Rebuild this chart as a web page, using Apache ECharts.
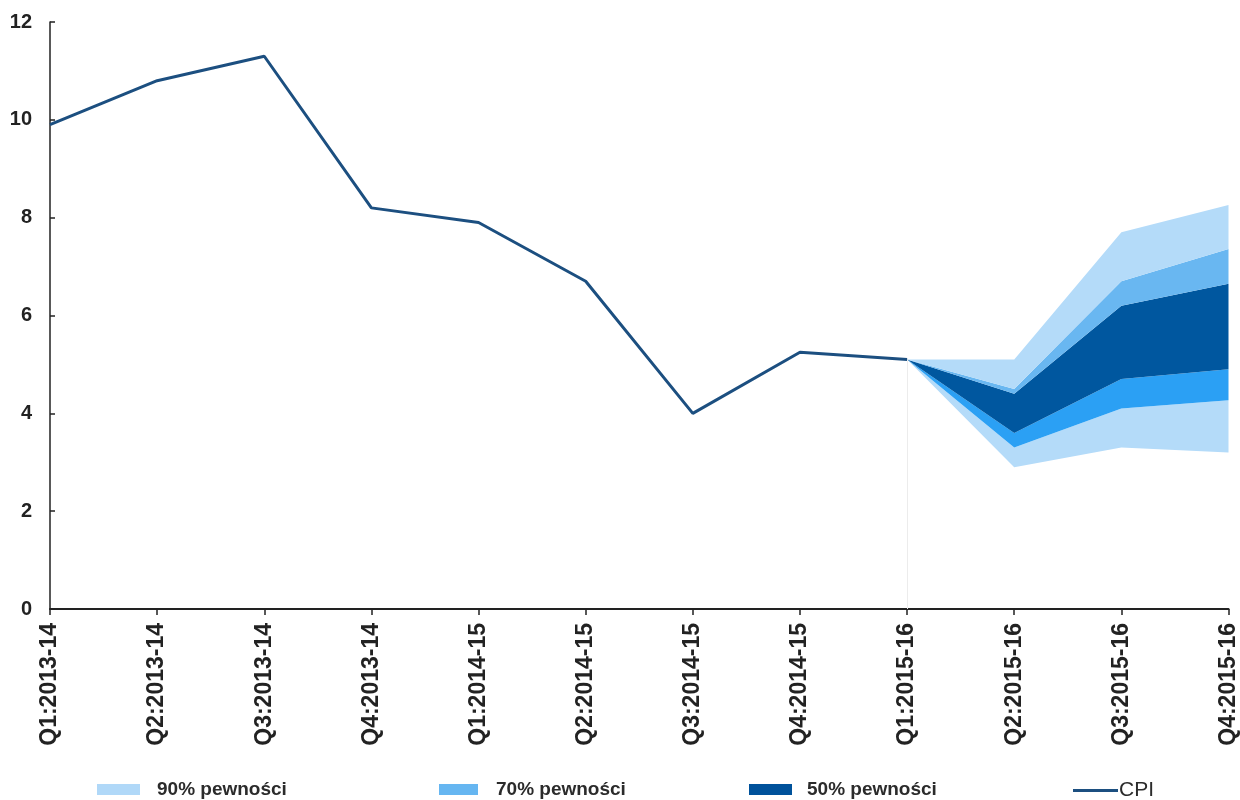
<!DOCTYPE html>
<html>
<head>
<meta charset="utf-8">
<script src="https://cdn.jsdelivr.net/npm/echarts@6/dist/echarts.min.js"></script>
<style>html,body{margin:0;padding:0;background:#fff}#c{width:1240px;height:800px}</style>
</head>
<body>
<div id="c"></div>
<script>
var categories = ['Q1:2013-14','Q2:2013-14','Q3:2013-14','Q4:2013-14','Q1:2014-15','Q2:2014-15','Q3:2014-15','Q4:2014-15','Q1:2015-16','Q2:2015-16','Q3:2015-16','Q4:2015-16'];
var cpi   = [9.9, 10.8, 11.3, 8.2, 7.9, 6.7, 4.0, 5.25, 5.1, null, null, null];
// fan bounds, null before forecast start
var lo90 = [null,null,null,null,null,null,null,null, 5.1, 2.9, 3.3, 3.2];
var lo70 = [null,null,null,null,null,null,null,null, 5.1, 3.3, 4.1, 4.27];
var lo50 = [null,null,null,null,null,null,null,null, 5.1, 3.6, 4.7, 4.9];
var hi50 = [null,null,null,null,null,null,null,null, 5.1, 4.4, 6.2, 6.65];
var hi70 = [null,null,null,null,null,null,null,null, 5.1, 4.5, 6.7, 7.36];
var hi90 = [null,null,null,null,null,null,null,null, 5.1, 5.1, 7.7, 8.26];
var yTicks = [0, 2, 4, 6, 8, 10, 12];

function diff(a, b) {
  return a.map(function (v, i) { return v == null ? '-' : +(v - b[i]).toFixed(4); });
}
function dash(a) { return a.map(function (v) { return v == null ? '-' : v; }); }

var C90 = '#b4dbf9', C70u = '#69b7f1', C70l = '#2ba0f4', C50 = '#00579f', CL = '#1c4f80';

function band(name, data, color) {
  return {
    name: name, type: 'line', stack: 'fan', data: data, symbol: 'none',
    lineStyle: { width: 0, opacity: 0 }, areaStyle: { color: color, opacity: 1 },
    itemStyle: { color: color }, z: 2, silent: true
  };
}

var chart = echarts.init(document.getElementById('c'));
var font = 'Liberation Sans, Arial, sans-serif';
function leg(left, w, h, name, icon, color, pad, size, weight) {
  return {
    left: left, top: 780, padding: 0, itemWidth: w, itemHeight: h, selectedMode: false,
    data: [{ name: name, icon: icon, itemStyle: { color: color } }],
    textStyle: { fontFamily: font, fontSize: size, fontWeight: weight, color: '#2b2b2b', padding: [0, 0, 0, pad] }
  };
}
chart.setOption({
  animation: false,
  grid: { left: 50, right: 10, top: 22, bottom: 191 },
  legend: [
    leg(97, 43, 11, '90% pewności', 'rect', '#b0d8f8', 12, 19, 'bold'),
    leg(439, 39, 11, '70% pewności', 'rect', '#66b6f1', 13, 19, 'bold'),
    leg(749, 43, 11, '50% pewności', 'rect', '#00529b', 10, 19, 'bold'),
    leg(1073, 45, 3, 'CPI', 'rect', CL, -4, 21, 'normal')
  ],
  xAxis: {
    type: 'category', data: categories, boundaryGap: false,
    axisLine: { lineStyle: { color: '#222', width: 2 } },
    axisTick: { show: true, length: 6, lineStyle: { color: '#222', width: 1.5 }, alignWithLabel: true },
    axisLabel: { rotate: 90, margin: 14, fontFamily: font, fontSize: 23, fontWeight: 'bold', color: '#222', interval: 0 },
    splitLine: { show: false }
  },
  yAxis: {
    type: 'value', min: yTicks[0], max: yTicks[yTicks.length - 1], interval: 2,
    axisLine: { show: true, lineStyle: { color: '#222', width: 1.5 } },
    axisTick: { show: true, inside: true, length: 5, lineStyle: { color: '#222', width: 1.5 } },
    axisLabel: { margin: 18, fontFamily: font, fontSize: 20, fontWeight: 'bold', color: '#222' },
    splitLine: { show: false }
  },
  series: [
    { name: 'base', type: 'line', stack: 'fan', data: dash(lo90), symbol: 'none', lineStyle: { width: 0, opacity: 0 }, silent: true, z: 2 },
    band('90% pewności', diff(lo70, lo90), C90),
    band('70% pewności', diff(lo50, lo70), C70l),
    band('50% pewności', diff(hi50, lo50), C50),
    band('70% pewności', diff(hi70, hi50), C70u),
    band('90% pewności', diff(hi90, hi70), C90),
    {
      name: 'CPI', type: 'line', data: dash(cpi), symbol: 'none', z: 5,
      lineStyle: { color: CL, width: 3 }, itemStyle: { color: CL },
      markLine: {
        silent: true, symbol: 'none', label: { show: false },
        lineStyle: { color: '#ececec', width: 1, type: 'solid' },
        data: [[{ coord: [8, 0] }, { coord: [8, cpi[8]] }]]
      }
    }
  ]
});
</script>
</body>
</html>
